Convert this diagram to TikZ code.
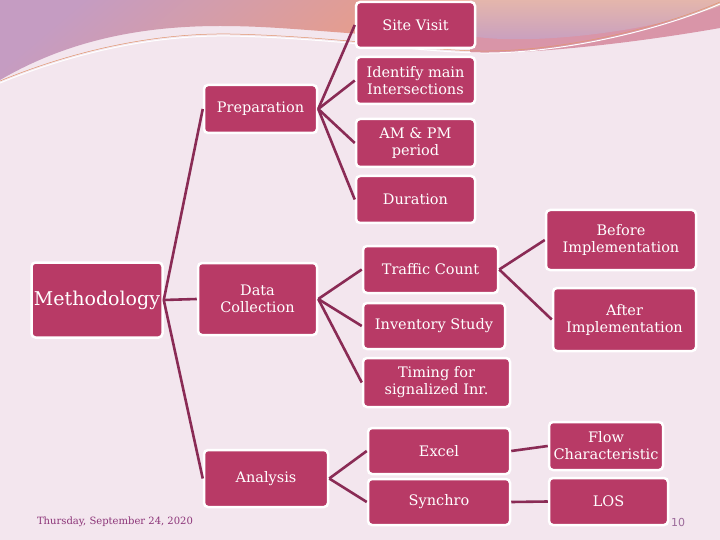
\documentclass[tikz,border=0pt]{standalone}
\usepackage{fontspec}
\setmainfont{DejaVu Serif}
\setsansfont{DejaVu Sans}
\definecolor{slidebg}{HTML}{F3E6EE}
\definecolor{boxfill}{HTML}{B83A66}
\definecolor{linkcol}{HTML}{8A2B55}
\definecolor{footcol}{HTML}{8C3478}
\definecolor{numcol}{HTML}{9C6A9A}
\definecolor{waveviolet}{HTML}{C59CC2}
\definecolor{waveorange}{HTML}{EE9E80}
\definecolor{wavepeach}{HTML}{E4B6AC}
\definecolor{wavepink}{HTML}{D995A8}
\tikzset{
  box/.style={draw=white, line width=2.5pt, fill=boxfill, rounded corners=4pt,
              text=white, align=center, inner sep=2pt,
              font=\fontsize{14.5}{17}\selectfont},
  boxsize/.style 2 args={minimum width=#1pt, minimum height=#2pt},
  link/.style={draw=linkcol, line width=2.6pt}
}

\begin{document}
\begin{tikzpicture}[x=1pt,y=-1pt]
\fill[slidebg] (0,0) rectangle (720,540);
\useasboundingbox (0,0) rectangle (720,540);
% waves at the top
\shade[top color=waveviolet, bottom color=waveorange, shading angle=40]
  (0,0) -- (0,80) .. controls (60,45) and (130,26) .. (220,26)
  .. controls (290,26) and (340,35) .. (470,40) -- (470,0) -- cycle;
\fill[wavepink] (470,0) -- (470,53) .. controls (540,54) and (640,42) .. (720,28)
  -- (720,0) -- cycle;
\shade[top color=wavepeach, bottom color=waveviolet]
  (470,0) -- (470,36) .. controls (530,46) and (650,32) .. (720,6) -- (720,0) -- cycle;
\draw[white, line width=1pt] (0,83) .. controls (80,50) and (160,35) .. (230,36)
  .. controls (330,38) and (420,52) .. (480,53) .. controls (560,54) and (660,30) .. (720,4);
\draw[waveorange!70!brown, line width=0.5pt] (0,81) .. controls (80,48) and (160,33) .. (230,34)
  .. controls (330,36) and (420,50) .. (480,51) .. controls (560,52) and (660,28) .. (720,2);

\node[box, boxsize={131}{75}, font=\fontsize{19}{22}\selectfont] (meth) at (97,300) {Methodology};

\node[box, boxsize={113}{48}] (prep) at (260.5,109) {Preparation};
\node[box, boxsize={119}{72}] (dc) at (257.5,299) {Data\\Collection};
\node[box, boxsize={124}{57}] (ana) at (266,478.5) {Analysis};

\node[box, boxsize={119}{46}] (site) at (415.5,25) {Site Visit};
\node[box, boxsize={119}{47}] (ident) at (415.5,80.5) {Identify main\\Intersections};
\node[box, boxsize={119}{48}] (ampm) at (415.5,143) {AM \& PM\\period};
\node[box, boxsize={119}{47}] (dur) at (415.5,199.5) {Duration};

\node[box, boxsize={135}{47}] (traffic) at (430.5,269.5) {Traffic Count};
\node[box, boxsize={142}{46}] (inv) at (434,326) {Inventory Study};
\node[box, boxsize={147}{49}] (timing) at (436.5,382.5) {Timing for\\signalized Inr.};

\node[box, boxsize={150}{60}] (before) at (621,240) {Before\\Implementation};
\node[box, boxsize={143}{63}] (after) at (624.5,319.5) {After\\Implementation};

\node[box, boxsize={142}{46}] (excel) at (439,451) {Excel};
\node[box, boxsize={142}{46}] (synchro) at (439,502) {Synchro};
\node[box, boxsize={114}{48}] (flow) at (606,446) {Flow\\Characteristic};
\node[box, boxsize={119}{47}] (los) at (608.5,501.5) {LOS};

\foreach \c in {prep,dc,ana} \draw[link] (meth.east) -- (\c.west);
\foreach \c in {site,ident,ampm,dur} \draw[link] (prep.east) -- (\c.west);
\foreach \c in {traffic,inv,timing} \draw[link] (dc.east) -- (\c.west);
\foreach \c in {before,after} \draw[link] (traffic.east) -- (\c.west);
\foreach \c in {excel,synchro} \draw[link] (ana.east) -- (\c.west);
\draw[link] (excel.east) -- (flow.west);
\draw[link] (synchro.east) -- (los.west);

\node[text=footcol, font=\fontsize{10}{12}\selectfont] (date) at (115,522) {Thursday, September 24, 2020};
\node[text=numcol, font=\sffamily\fontsize{11}{13}\selectfont] (page) at (678,522) {10};
\end{tikzpicture}
\end{document}
